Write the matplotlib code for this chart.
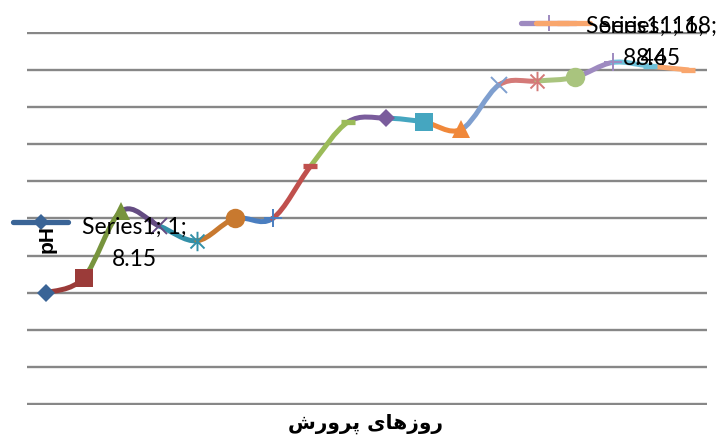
import numpy as np
import matplotlib
matplotlib.use('Agg')
import matplotlib.pyplot as plt
from matplotlib.path import Path
from matplotlib.patches import PathPatch
from matplotlib.lines import Line2D

# pH per day of culture (axis 8.0 - 8.5)
days = list(range(1, 19))
ph = [8.15, 8.17, 8.26, 8.24, 8.22, 8.25, 8.25, 8.32, 8.38,
      8.385, 8.38, 8.37, 8.43, 8.435, 8.44, 8.46, 8.455, 8.45]

# excel "vary colors by point"
point_colors = ['#3A6496', '#9B3B39', '#77943D', '#644C82', '#3390A8', '#C8792F',
                '#4A7EC0', '#C0504D', '#9BBB59', '#7A5C9C', '#45A6C0', '#F0883A',
                '#7F9FCF', '#D47A78', '#A9C47E', '#9E8AC0', '#6EC1D9', '#F9A66D']
point_markers = ['D', 's', '^', 'x', 'star', 'o', '+', '_', '_',
                 'D', 's', '^', 'x', 'star', 'o', '+', '_', '_']

y_title = 'pH'
# 'روزهای پرورش' written in presentation forms, visual order (no shaping in mpl)
x_title = '\uFEB5\uFEAD\uFEED\uFEAE\uFB58 \uFEEF\uFE8E\uFEEB\uFEAF\uFEED\uFEAD'

W, H = 728, 439
star = Path([(0, -1), (0, 1), (-0.72, -0.72), (0.72, 0.72), (-0.72, 0.72), (0.72, -0.72)],
            [Path.MOVETO, Path.LINETO, Path.MOVETO, Path.LINETO, Path.MOVETO, Path.LINETO])
msize = {'D': 9.5, 's': 13, '^': 13, 'x': 12, 'star': 14, 'o': 14, '+': 13, '_': 10}


def marker_kw(m, c):
    kw = dict(color=c, markersize=msize[m], linestyle='none')
    if m == 'star':
        kw.update(marker=star, markerfacecolor='none', markeredgewidth=1.4)
    elif m in ('x', '+'):
        kw.update(marker=m, markeredgewidth=1.4)
    elif m == '_':
        kw.update(marker=m, markeredgewidth=3.8)
    else:
        kw.update(marker=m, markeredgewidth=0)
    return kw


fig = plt.figure(figsize=(W / 100, H / 100), dpi=100)
ax = fig.add_axes([27 / W, 1 - 406 / H, 680 / W, 373 / H])
ax.set_xlim(0.5, 18.5)
ax.set_ylim(7.999, 8.501)
ax.set_yticks(np.arange(8.0, 8.501, 0.05))
ax.set_xticks([])
ax.grid(axis='y', color='#878787', lw=1.7)
ax.tick_params(length=0, labelleft=False)
for s in ax.spines.values():
    s.set_visible(False)

# smoothed line, one bezier per segment, coloured like its end point
x = np.array(days, dtype=float)
y = np.array(ph)
px = np.r_[x[0], x, x[-1]]
py = np.r_[y[0], y, y[-1]]
for i in range(len(days) - 1):
    c1 = (x[i] + (px[i + 2] - px[i]) / 6, y[i] + (py[i + 2] - py[i]) / 6)
    c2 = (x[i + 1] - (px[i + 3] - px[i + 1]) / 6, y[i + 1] - (py[i + 3] - py[i + 1]) / 6)
    path = Path([(x[i], y[i]), c1, c2, (x[i + 1], y[i + 1])],
                [Path.MOVETO, Path.CURVE4, Path.CURVE4, Path.CURVE4])
    ax.add_patch(PathPatch(path, fc='none', ec=point_colors[i + 1], lw=3.6,
                           capstyle='round', zorder=3))

for i in range(len(days)):
    ax.plot(x[i], y[i], zorder=4, clip_on=False, **marker_kw(point_markers[i], point_colors[i]))

lab_font = ['Lato', 'DejaVu Sans']


def data_label(idx, key_x0, key_x1, key_y, cx, base1):
    c = point_colors[idx]
    fig.add_artist(Line2D([key_x0 / W, key_x1 / W], [1 - key_y / H] * 2,
                          transform=fig.transFigure, color=c, lw=3.8,
                          solid_capstyle='round'))
    kw = marker_kw(point_markers[idx], c)
    kw['markersize'] = kw['markersize'] * 0.9
    fig.add_artist(Line2D([(key_x0 + key_x1) / 2 / W], [1 - key_y / H],
                          transform=fig.transFigure, **kw))
    fig.text(cx / W, 1 - base1 / H, 'Series1; %d;' % days[idx], ha='center',
             va='baseline', fontsize=16.5, family=lab_font, color='#000000')
    fig.text(cx / W, 1 - (base1 + 32) / H, '%.2f' % ph[idx], ha='center',
             va='baseline', fontsize=16.5, family=lab_font, color='#000000')


# pH axis title (sits under the first data label)
fig.text(47 / W, 1 - 239 / H, y_title, rotation=90, ha='center', va='center',
         fontsize=15, fontweight='bold', family='Liberation Sans')

data_label(0, 13, 68, 223, 134, 234)
data_label(15, 521, 576, 24, 645, 33)
data_label(17, 536, 590, 24, 658, 33)

fig.text(366 / W, 1 - 429 / H, x_title, ha='center', va='baseline',
         fontsize=14.5, fontweight='bold', family='DejaVu Sans')

fig.savefig('out.png', dpi=100)
